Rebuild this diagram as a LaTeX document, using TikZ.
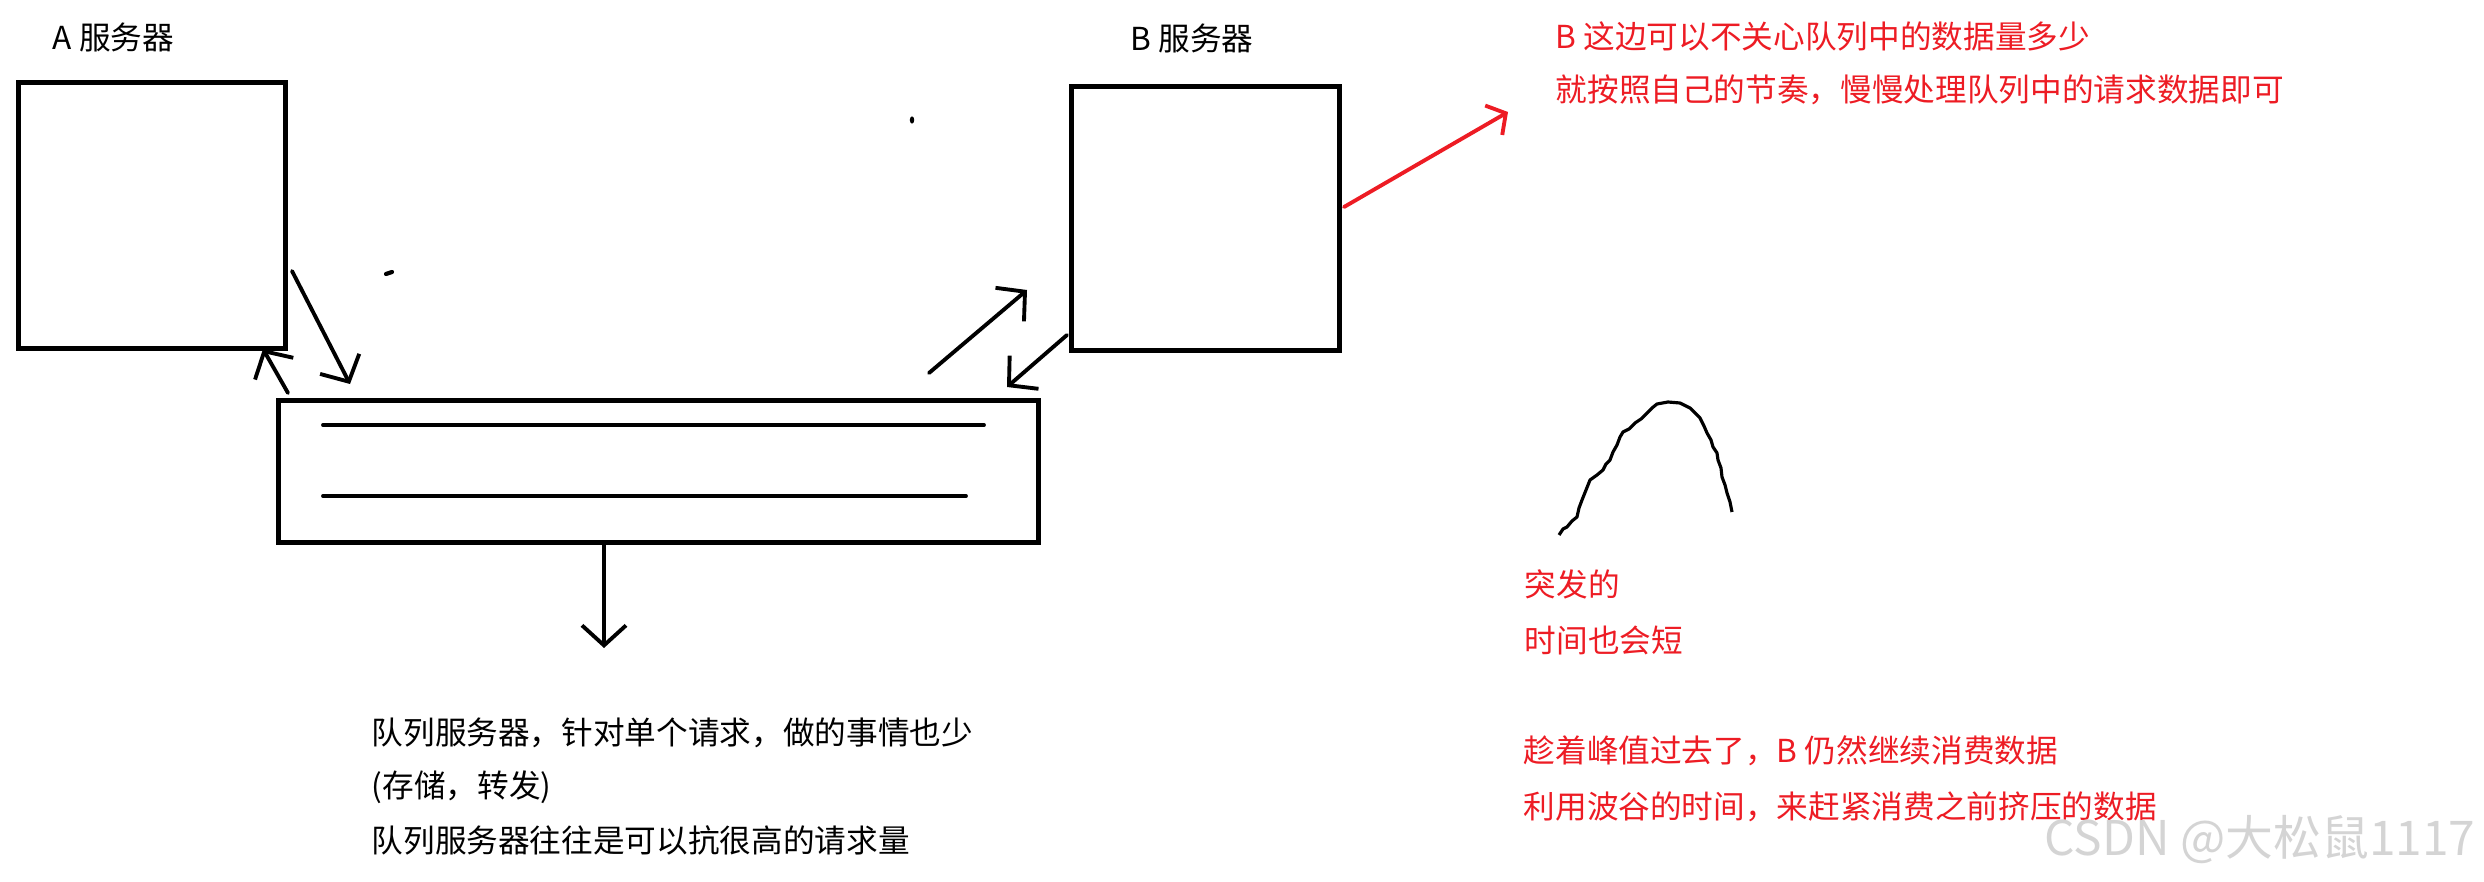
\documentclass[tikz,border=0pt]{standalone}
\usepackage{fontspec}
\setmainfont{Noto Sans CJK SC}
\usetikzlibrary{arrows.meta}
\definecolor{inkred}{RGB}{237,28,36}
\definecolor{markgray}{RGB}{212,212,212}
\begin{document}
\begin{tikzpicture}[x=0.01cm,y=-0.01cm,
		box/.style={draw,line width=1.4pt,inner sep=0pt,anchor=north west},
		pen/.style={line width=1.1pt,line cap=round,-{Straight Barb[length=2mm,width=4.4mm]}},
		redpen/.style={pen,draw=inkred,-{Straight Barb[length=1.4mm,width=3.4mm]}},
		note/.style={anchor=west,inner sep=0pt,font=\fontsize{9}{11}\selectfont},
		rednote/.style={note,text=inkred}]
	\useasboundingbox (0,0) rectangle (2484,882);
	\node[box,minimum width=2.67cm,minimum height=2.66cm] (aserver) at (16,80) {};
	\node[box,minimum width=2.68cm,minimum height=2.64cm] (bserver) at (1069,84) {};
	\node[box,minimum width=7.6cm,minimum height=1.42cm] (queue) at (276,398) {};
	\node[note] (alabel) at (52,37) {A 服务器};
	\node[note] (blabel) at (1130,38) {B 服务器};
	\draw[line width=1.1pt,line cap=round] (323,425) -- (984,425);
	\draw[line width=1.1pt,line cap=round] (323,496) -- (966,496);
	\coordinate (a2q0) at (292,271);
	\coordinate (a2q1) at (350,384);
	\coordinate (q2a0) at (288,393);
	\coordinate (q2a1) at (263,349);
	\coordinate (q2b0) at (929,373);
	\coordinate (q2b1) at (1027,290);
	\coordinate (b2q0) at (1067,335);
	\coordinate (b2q1) at (1007,387);
	\coordinate (qout) at (604,648);
	\coordinate (bout0) at (1344,207);
	\coordinate (bout1) at (1508,112);
	\draw[pen] (a2q0) -- (a2q1);
	\draw[pen] (q2a0) -- (q2a1);
	\draw[pen] (q2b0) -- (q2b1);
	\draw[pen] (b2q0) -- (b2q1);
	\draw[pen] (604,542) -- (qout);
	\draw[redpen] (bout0) -- (bout1);
	\fill (912,120) ellipse [x radius=2.2,y radius=3.6];
	\draw[line width=1.2pt,line cap=round] (386,274) -- (392,272);
	\draw[line width=0.9pt,line join=round] plot coordinates {(1559,535) (1563,529) (1567,527) (1572,521) (1577,517) (1579,508) (1582,500) (1586,490) (1590,480) (1597,475) (1603,470) (1606,464) (1610,460) (1613,452) (1617,445) (1620,437) (1623,432) (1629,429) (1635,423) (1641,419) (1647,413) (1652,408) (1657,404) (1668,402) (1680,403) (1690,408) (1695,413) (1700,418) (1704,426) (1707,433) (1711,440) (1713,447) (1717,453) (1718,460) (1721,468) (1722,477) (1725,485) (1727,493) (1730,502) (1732,512)};
	\node[rednote] (bnote1) at (1555,36) {B 这边可以不关心队列中的数据量多少};
	\node[rednote] (bnote2) at (1555,90) {就按照自己的节奏，慢慢处理队列中的请求数据即可};
	\node[rednote] (peak1) at (1524,584) {突发的};
	\node[rednote] (peak2) at (1524,640) {时间也会短};
	\node[rednote] (valley1) at (1523,751) {趁着峰值过去了，B 仍然继续消费数据};
	\node[rednote] (valley2) at (1523,807) {利用波谷的时间，来赶紧消费之前挤压的数据};
	\node[note] (qnote1) at (371,733) {队列服务器，针对单个请求，做的事情也少};
	\node[note] (qnote2) at (371,787) {(存储，转发)};
	\node[note] (qnote3) at (371,840) {队列服务器往往是可以抗很高的请求量};
	\node[anchor=west,inner sep=0pt,text=markgray,font=\fontsize{13.6}{15}\selectfont] (mark) at (2044,840) {CSDN @大松鼠1117};
\end{tikzpicture}
\end{document}
